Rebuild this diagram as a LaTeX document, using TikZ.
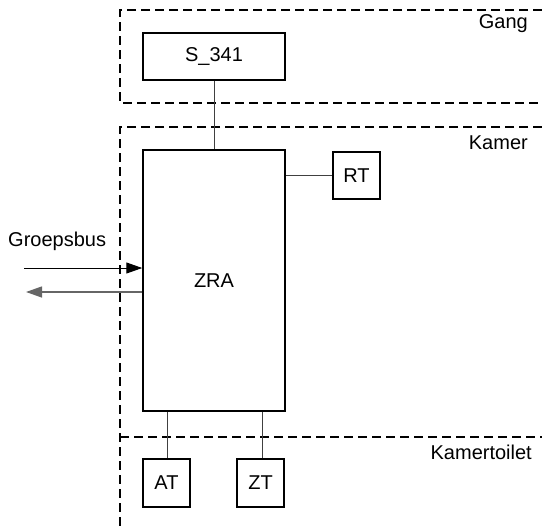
\documentclass[tikz,border=0pt]{standalone}
\usepackage{fontspec}
\setmainfont{Liberation Sans}
\usetikzlibrary{arrows.meta}
\begin{document}
\begin{tikzpicture}[x=1pt,y=-1pt,
  box/.style={draw, line width=1.5pt, inner sep=0pt, minimum width=#1},
  conn/.style={draw=black!75, line width=1pt},
  region/.style={draw, line width=1.1pt, dash pattern=on 9pt off 5pt},
  lbl/.style={inner sep=0pt, anchor=east},
  font=\fontsize{20}{24}\selectfont]
\useasboundingbox (0,0) rectangle (542,528);
% regions
\draw[region] (542,10) -- (120,10) -- (120,103) -- (542,103);
\draw[region] (542,127) -- (120,127) -- (120,528);
\draw[region] (120,437) -- (542,437);
\node[lbl] (gang) at (528,24) {Gang};
\node[lbl] (kamer) at (528,143) {Kamer};
\node[lbl] (toilet) at (532,452) {Kamertoilet};
% boxes
\node[box=142pt, minimum height=47pt] (s341) at (214,56.5) {S\_341};
\node[box=142pt, minimum height=261pt] (zra) at (214,280.5) {ZRA};
\node[box=47pt, minimum height=47pt] (rt) at (356.5,175.5) {RT};
\node[box=47pt, minimum height=48pt] (at) at (166.5,483) {AT};
\node[box=47pt, minimum height=48pt] (zt) at (260.5,483) {ZT};
% connectors
\draw[conn] (s341.south) -- (zra.north);
\draw[conn] (zra.east |- rt.west) -- (rt.west);
\draw[conn] (at.north -| 167,0) -- (167,0 |- zra.south);
\draw[conn] (zt.north -| 262,0) -- (262,0 |- zra.south);
\coordinate (inS) at (24,268);
\coordinate (outE) at (26,292);
\draw[line width=1pt, -{Triangle[length=16pt,width=11pt]}] (inS) -- (zra.west |- inS);
\draw[line width=1.3pt, draw=black!60, -{Triangle[length=16pt,width=11pt]}] (zra.west |- outE) -- (outE);
\node[inner sep=0pt, anchor=west] (gb) at (8,241) {Groepsbus};
\end{tikzpicture}
\end{document}
